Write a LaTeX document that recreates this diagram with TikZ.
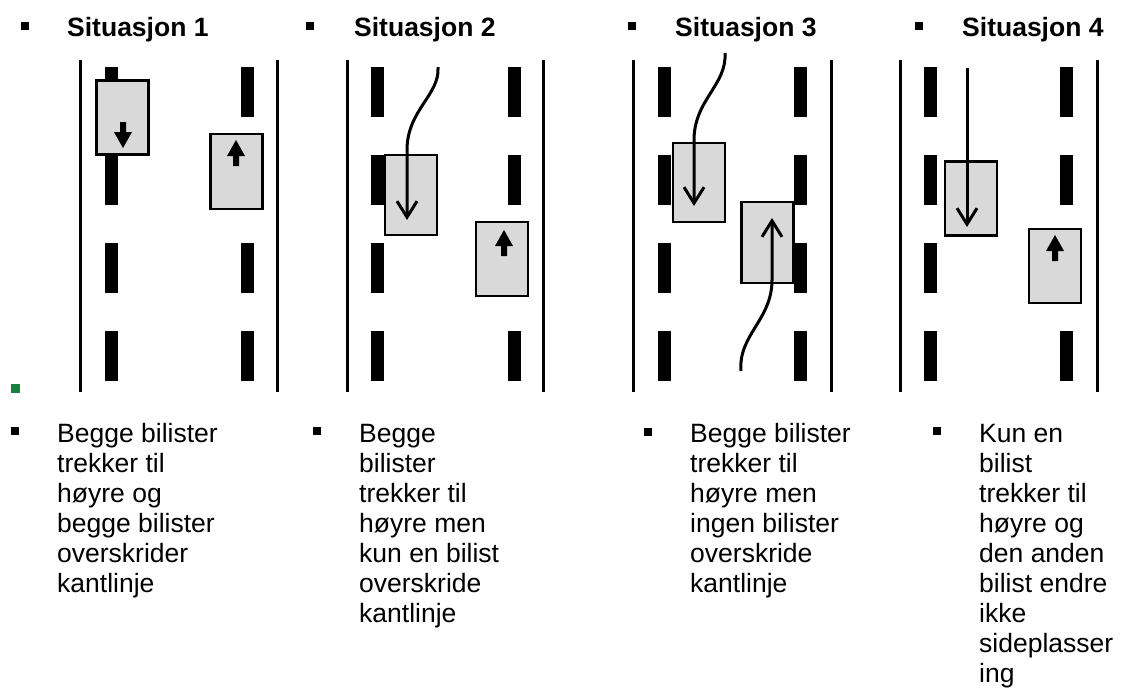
\documentclass[tikz,border=0pt]{standalone}
\usepackage{fontspec}
\setmainfont{Liberation Sans}
\usetikzlibrary{arrows.meta}
\definecolor{carfill}{RGB}{217,217,217}
\definecolor{markgreen}{RGB}{24,128,62}
\newcommand{\blockarrow}[2]{\fill[shift={(#1)},yscale=#2] (-3,0)--(-3,-10)--(-9,-10)--(0,-26)--(9,-10)--(3,-10)--(3,0)--cycle;}
\begin{document}
\begin{tikzpicture}[x=1pt,y=-1pt,font=\fontsize{26.5pt}{30pt}\selectfont,
  edge/.style={line width=3pt},
  lane/.style={line width=13pt,dash pattern=on 50pt off 38pt},
  car/.style={draw,fill=carfill,line width=2.5pt,minimum width=52pt,minimum height=#1,inner sep=0pt},
  car/.default=74pt,
  track/.style={line width=3pt,-{Straight Barb[length=16pt,width=20pt]}},
  title/.style={anchor=base west,inner sep=0pt,font=\fontsize{26.5pt}{30pt}\selectfont\bfseries},
  caption/.style={anchor=base west,align=left,inner sep=0pt},
  bullet/.style={fill,minimum size=8pt,inner sep=0pt}]
\useasboundingbox (0,0) rectangle (1123,689);
\draw[edge] (80,60)--(80,392);
\draw[edge] (277,60)--(277,392);
\draw[lane] (111.5,67)--(111.5,381);
\draw[lane] (247.5,67)--(247.5,381);
\draw[edge] (347,60)--(347,392);
\draw[edge] (543,60)--(543,392);
\draw[lane] (377,67)--(377,381);
\draw[lane] (514,67)--(514,381);
\draw[edge] (633,60)--(633,392);
\draw[edge] (831,60)--(831,392);
\draw[lane] (664.5,67)--(664.5,381);
\draw[lane] (800.5,67)--(800.5,381);
\draw[edge] (900,60)--(900,392);
\draw[edge] (1097,60)--(1097,392);
\draw[lane] (930,67)--(930,381);
\draw[lane] (1066.5,67)--(1066.5,381);
\node[car] (down1) at (122.5,117.5) {};
\node[car=75pt] (up1) at (236.5,171.5) {};
\node[car=80pt] (down2) at (411,195) {};
\node[car] (up2) at (502,259) {};
\node[car=79pt] (down3) at (699,182.5) {};
\node[car=81pt] (up3) at (767.5,242.5) {};
\node[car] (down4) at (971,198.5) {};
\node[car] (up4) at (1055,266) {};
\blockarrow{123,122}{-1}
\blockarrow{236,166}{1}
\blockarrow{504,256}{1}
\blockarrow{1055,261}{1}
\coordinate (from2) at (438,67);
\coordinate (to2) at (407,220);
\draw[track] (from2) .. controls (440,95) and (407,110) .. (407,150) -- (to2);
\coordinate (from3) at (725,53);
\coordinate (to3) at (694,206);
\draw[track] (from3) .. controls (727,85) and (694,100) .. (694,140) -- (to3);
\coordinate (back3) at (741,371);
\coordinate (ahead3) at (772,218);
\draw[track] (back3) .. controls (738,335) and (772,320) .. (772,280) -- (ahead3);
\coordinate (from4) at (967,68);
\coordinate (to4) at (967,227);
\draw[track] (from4) -- (to4);
\node[bullet] (tb1) at (24.5,26) {};
\node[title] (t1) at (67,36) {Situasjon 1};
\node[bullet] (tb2) at (310,26) {};
\node[title] (t2) at (354,36) {Situasjon 2};
\node[bullet] (tb3) at (632,26) {};
\node[title] (t3) at (675,36) {Situasjon 3};
\node[bullet] (tb4) at (919,26) {};
\node[title] (t4) at (962,36) {Situasjon 4};
\node[bullet,fill=markgreen,minimum size=9pt] (mark) at (15.5,388) {};
\node[bullet] (cb1) at (14.5,431) {};
\node[caption] (c1) at (57,592) {Begge bilister\\trekker til\\høyre og\\begge bilister\\overskrider\\kantlinje};
\node[bullet] (cb2) at (317,431) {};
\node[caption] (c2) at (359,622) {Begge\\bilister\\trekker til\\høyre men\\kun en bilist\\overskride\\kantlinje};
\node[bullet] (cb3) at (648,432) {};
\node[caption] (c3) at (690,592) {Begge bilister\\trekker til\\høyre men\\ingen bilister\\overskride\\kantlinje};
\node[bullet] (cb4) at (937,431) {};
\node[caption] (c4) at (979,682) {Kun en\\bilist\\trekker til\\høyre og\\den anden\\bilist endre\\ikke\\sideplasser\\ing};
\end{tikzpicture}
\end{document}
